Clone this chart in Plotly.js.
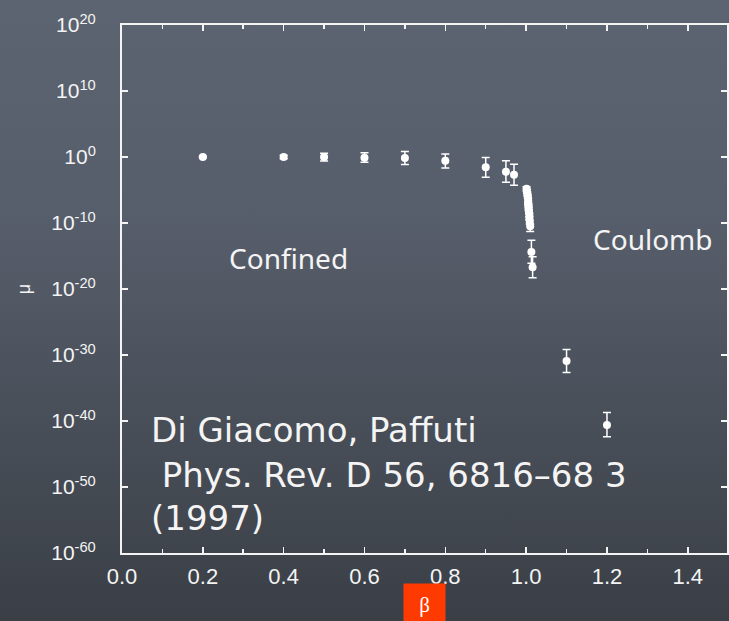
<!DOCTYPE html>
<html>
<head>
<meta charset="utf-8">
<script src="https://cdn.plot.ly/plotly-3.0.1.min.js"></script>
<style>
  html, body { margin: 0; padding: 0; }
  body {
    width: 729px; height: 621px; overflow: hidden;
    background: linear-gradient(180deg, #5d6471 0%, #575e6b 35%, #4a505a 65%, #3a3f46 100%);
  }
  #chart { width: 729px; height: 621px; }
</style>
</head>
<body>
<div id="chart"></div>
<script>
// beta values (x)
const beta = [0.2, 0.4, 0.5, 0.6, 0.7, 0.8, 0.9, 0.95, 0.97,
  1.001, 1.002, 1.003, 1.004, 1.005, 1.005, 1.006, 1.006, 1.007, 1.008, 1.008, 1.009, 1.010,
  1.013, 1.016, 1.1, 1.2];
// log10(mu)
const muExp = [0.0, 0.0, 0.0, -0.1, -0.15, -0.56, -1.56, -2.22, -2.68,
  -4.8, -5.2, -5.6, -6.0, -6.5, -7.0, -7.4, -7.8, -8.3, -8.8, -9.3, -9.9, -10.5,
  -14.4, -16.7, -30.9, -40.6];
// error bar extent above / below (decades)
const errUpDec = [0.1, 0.25, 0.55, 0.75, 1.0, 1.0, 1.5, 1.65, 1.6,
  0.3, 0.3, 0.3, 0.3, 0.3, 0.3, 0.3, 0.3, 0.3, 0.3, 0.3, 0.3, 0.3,
  1.8, 1.6, 1.75, 1.9];
const errDnDec = [0.1, 0.25, 0.6, 0.7, 1.0, 1.1, 1.5, 1.6, 1.6,
  0.3, 0.3, 0.3, 0.3, 0.3, 0.3, 0.3, 0.3, 0.3, 0.3, 0.3, 0.3, 0.8,
  1.7, 1.6, 1.75, 1.8];
const yTickExp = [-60, -50, -40, -30, -20, -10, 0, 10, 20];

const mu = muExp.map(e => Math.pow(10, e));
const errPlus = mu.map((m, i) => m * (Math.pow(10, errUpDec[i]) - 1));
const errMinus = mu.map((m, i) => m * (1 - Math.pow(10, -errDnDec[i])));

const W = '#f4f4f4';
const trace = {
  x: beta, y: mu, type: 'scatter', mode: 'markers',
  marker: { color: '#ffffff', size: 8 },
  error_y: { type: 'data', array: errPlus, arrayminus: errMinus, symmetric: false,
             color: '#ffffff', thickness: 1.5, width: 4 },
  showlegend: false, hoverinfo: 'x+y'
};

const layout = {
  width: 729, height: 621,
  margin: { l: 122, r: 2, t: 25, b: 68 },
  paper_bgcolor: 'rgba(0,0,0,0)', plot_bgcolor: 'rgba(0,0,0,0)',
  font: { family: 'Liberation Sans, Arial, sans-serif', color: W },
  xaxis: {
    range: [0, 1.497], dtick: 0.2, tick0: 0, tickformat: '.1f',
    ticks: 'inside', ticklen: 6, tickwidth: 1.5, tickcolor: W,
    showline: true, linecolor: W, linewidth: 2, mirror: 'ticks',
    showgrid: false, zeroline: false,
    tickfont: { size: 22, color: W, family: 'Liberation Sans, Arial, sans-serif' },
    ticklabelstandoff: 3,
    minor: { dtick: 0.1, ticks: 'inside', ticklen: 4, tickwidth: 1.5, tickcolor: W, showgrid: false }
  },
  yaxis: {
    type: 'log', range: [-60, 20],
    tickmode: 'array',
    tickvals: yTickExp.map(e => Math.pow(10, e)),
    ticktext: yTickExp.map(e => '10<sup>' + e + '</sup>'),
    ticks: 'inside', ticklen: 6, tickwidth: 1.5, tickcolor: W,
    showline: true, linecolor: W, linewidth: 2, mirror: 'ticks',
    showgrid: false, zeroline: false,
    tickfont: { size: 21, color: W, family: 'Liberation Sans, Arial, sans-serif' },
    ticklabelstandoff: 20,
    title: { text: 'μ', font: { size: 18, color: W, family: 'Liberation Sans, Arial, sans-serif' }, standoff: 16 }
  },
  annotations: [
    { xref: 'paper', yref: 'paper', x: 0.276, y: 0.559, xanchor: 'center', yanchor: 'middle',
      text: 'Confined', showarrow: false,
      font: { family: 'Comic Sans MS, Chalkboard, Noto Sans, sans-serif', size: 28, color: W } },
    { xref: 'paper', yref: 'paper', x: 0.8785, y: 0.595, xanchor: 'center', yanchor: 'middle',
      text: 'Coulomb', showarrow: false,
      font: { family: 'Comic Sans MS, Chalkboard, Noto Sans, sans-serif', size: 28, color: W } },
    { xref: 'paper', yref: 'paper', x: 0.044, y: 0.233, xanchor: 'left', yanchor: 'middle',
      text: 'Di Giacomo, Paffuti', showarrow: false,
      font: { family: 'DejaVu Sans, sans-serif', size: 34, color: W } },
    { xref: 'paper', yref: 'paper', x: 0.044, y: 0.148, xanchor: 'left', yanchor: 'middle',
      text: '\u00a0Phys. Rev. D 56, 6816–68 3', showarrow: false,
      font: { family: 'DejaVu Sans, sans-serif', size: 34, color: W } },
    { xref: 'paper', yref: 'paper', x: 0.044, y: 0.066, xanchor: 'left', yanchor: 'middle',
      text: '(1997)', showarrow: false,
      font: { family: 'DejaVu Sans, sans-serif', size: 34, color: W } },
    { xref: 'paper', yref: 'paper', x: 0.5, y: -0.0568, xanchor: 'center', yanchor: 'top',
      text: 'β', showarrow: false, width: 41, height: 42, bgcolor: '#ff3a00', borderpad: 0,
      valign: 'middle',
      font: { family: 'Liberation Serif, Times New Roman, serif', size: 21, color: '#ffffff' } }
  ]
};

Plotly.newPlot('chart', [trace], layout, { displayModeBar: false, staticPlot: true });
</script>
</body>
</html>
